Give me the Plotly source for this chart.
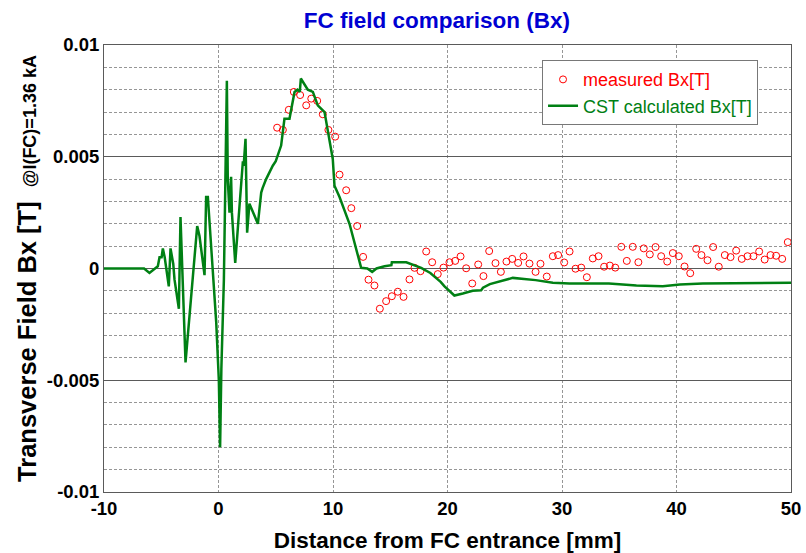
import plotly.graph_objects as go

# ---------------- data ----------------
cst_x = [-10, -7.8, -7.2, -6.9, -6.5, -6.03, -5.6, -5.44, -5.3, -5.15, -4.97, -4.86, -4.7,
         -4.34, -4.19, -3.95, -3.84, -3.46, -3.32, -2.88, -1.86, -1.66, -1.22, -1.08, -0.93,
         -0.2, 0.03, 0.14, 0.25, 0.47, 0.52, 0.6, 0.73, 0.81, 0.96, 1.1, 1.17, 1.46, 1.98,
         2.13, 2.2, 2.36, 2.5, 2.7, 3.44, 3.73, 3.85, 4.16, 4.74, 5.0, 5.47, 5.76, 6.2, 6.64,
         6.9, 7.1, 7.19, 7.8, 8.24, 8.67, 9.26, 9.98, 10.13, 10.57, 11.44, 12.0, 12.46, 13.0,
         13.42, 13.8, 14.5, 15.1, 15.14, 16.4, 17.7, 18.5, 19.4, 19.74, 20.6, 21.34, 22.2,
         22.94, 23.1, 23.7, 25.7, 27.7, 29.2, 30.65, 34.1, 36.5, 38.8, 40.3, 42.3, 50.0]
cst_y = [0, 0, 0.00002, 0.00001, 0, -0.0002, 0, 0.00005, 0.0001, 0.0005, 0.0005, 0.0009, 0.0005,
         -0.0008, 0.0009, 0.0002, -0.0005, -0.0018, 0.0023, -0.0042, 0.0019, 0.00145, -0.0003,
         0.0032, 0.0032,
         -0.0024, -0.005, -0.008, -0.0045, -0.0005, 0.0009, 0.004, 0.0084, 0.004, 0.0025, 0.0041,
         0.0025, 0.00025, 0.004,
         0.0048, 0.0046, 0.0058, 0.0016, 0.0029, 0.002, 0.0034, 0.0036, 0.004, 0.0046, 0.0048,
         0.0055, 0.0067, 0.0067, 0.0079,
         0.008, 0.0079, 0.0085, 0.008, 0.0079, 0.0073, 0.007, 0.0049, 0.0037, 0.0032, 0.002,
         0.00085, 0.00003, 0.0,
         -0.00015, 0.0, 0.0001, 0.00015, 0.00028, 0.00028, 0.00003, -0.0002, -0.0006, -0.0008,
         -0.00121, -0.00112, -0.001,
         -0.00097, -0.00086, -0.0007, -0.00042, -0.00052, -0.00064, -0.00067, -0.00067, -0.00076,
         -0.00079, -0.00072, -0.00067, -0.00064]

meas_x = [5.12, 5.62, 6.14, 6.58, 7.13, 7.66, 8.1, 8.62, 9.11, 9.6, 10.19, 10.57, 11.15, 11.6,
          12.11, 12.63, 13.1, 13.62, 14.09, 14.64, 15.14, 15.66, 16.16, 16.68, 17.12, 17.64,
          18.14, 18.66, 19.15, 19.65, 20.17, 20.67, 21.14, 21.63, 22.16, 22.68, 23.14, 23.64,
          24.19, 24.66, 25.15, 25.65, 26.17, 26.64, 27.16, 27.69, 28.12, 28.67, 29.2, 29.66,
          30.19, 30.66, 31.18, 31.68, 32.17, 32.69, 33.19, 33.68, 34.18, 34.65, 35.18, 35.66,
          36.18, 36.67, 37.14, 37.67, 38.17, 38.66, 39.19, 39.68, 40.2, 40.7, 41.2, 41.72,
          42.18, 42.71, 43.2, 43.69, 44.22, 44.72, 45.21, 45.7, 46.2, 46.72, 47.22, 47.7,
          48.21, 48.7, 49.23, 49.72, 50.22]
meas_y = [0.0063, 0.0062, 0.0071, 0.0079, 0.00776, 0.0073, 0.0076, 0.0075, 0.0069, 0.0062,
          0.0059, 0.0042, 0.0035, 0.0027, 0.0019, 0.00052, -0.0005, -0.00076, -0.0018, -0.00146,
          -0.00124, -0.00104, -0.00127, -0.00049, 0.00003, -0.00012, 0.00076, 0.00028, -0.00025,
          0.00004, 0.00028, 0.00034, 0.00054, 0.00001, -0.00067, 0.00018, -0.00034, 0.00078,
          0.00024, -0.00015, 0.00031, 0.00043, 0.00025, 0.00054, 0.00022, -0.00015, 0.00021,
          -0.00036, 0.00055, 0.0006, 0.00027, 0.00076, -0.00001, 0.00004, -0.00039, 0.00045,
          0.00055, 0.00008, 0.00013, 0.00004, 0.00097, 0.00034, 0.00097, 0.00028, 0.0009,
          0.00063, 0.00096, 0.00055, 0.00031, 0.00069, 0.00055, 0.00009, -0.00021, 0.00088,
          0.0006, 0.00037, 0.00096, 0.00008, 0.0006, 0.00051, 0.0008, 0.00043, 0.00055, 0.00055,
          0.00076, 0.0004, 0.0006, 0.00057, 0.00043, 0.00118, 0.00028]

x_tickvals = [-10, 0, 10, 20, 30, 40, 50]
x_ticktext = ["-10", "0", "10", "20", "30", "40", "50"]
y_tickvals = [0.01, 0.005, 0, -0.005, -0.01]
y_ticktext = ["0.01", "0.005", "0", "-0.005", "-0.01"]

FONT = "Liberation Sans, Arial, sans-serif"
RED = "rgb(255,0,0)"
GREEN = "rgb(0,128,20)"

fig = go.Figure()
fig.add_trace(go.Scatter(
    x=meas_x, y=meas_y, mode="markers",
    name="<span style='color:rgb(255,0,0)'>measured Bx[T]</span>",
    marker=dict(symbol="circle-open", size=7, color=RED, line=dict(width=1)),
    cliponaxis=False,
))
fig.add_trace(go.Scatter(
    x=cst_x, y=cst_y, mode="lines",
    name="<span style='color:rgb(0,128,20)'>CST calculated Bx[T]</span>",
    line=dict(color=GREEN, width=2.5),
))

fig.update_layout(
    width=806, height=553,
    margin=dict(l=104, r=15, t=45, b=61),
    paper_bgcolor="white", plot_bgcolor="white",
    font=dict(family=FONT, color="black"),
    title=dict(text="<b>FC field comparison (Bx)</b>", x=0.542, xanchor="center",
               y=0.963, yanchor="middle",
               font=dict(family=FONT, size=22.5, color="rgb(0,0,210)")),
    showlegend=True,
    legend=dict(x=0.6376, y=0.966, xanchor="left", yanchor="top",
                bgcolor="white", bordercolor="rgb(120,120,120)", borderwidth=1,
                font=dict(family=FONT, size=18), tracegroupgap=0),
    xaxis=dict(range=[-10, 50], tickvals=x_tickvals, ticktext=x_ticktext,
               tickfont=dict(size=18.5, family=FONT, weight="bold"),
               showgrid=True, gridcolor="rgb(150,150,150)", griddash="3px,2px", gridwidth=1,
               zeroline=False, showline=True, linecolor="rgb(90,90,90)", linewidth=1,
               mirror=True, ticks="", automargin=False,
               title=dict(text="<b>Distance from FC entrance [mm]</b>",
                          font=dict(size=22.5, family=FONT), standoff=16)),
    yaxis=dict(range=[-0.01, 0.01], tickvals=y_tickvals, ticktext=y_ticktext,
               tickfont=dict(size=18.5, family=FONT, weight="bold"),
               showgrid=True, gridcolor="rgb(90,90,90)", gridwidth=1,
               minor=dict(dtick=0.001, tick0=0, showgrid=True, gridcolor="rgb(150,150,150)",
                          griddash="3px,2px", gridwidth=1, ticks=""),
               zeroline=False, showline=True, linecolor="rgb(90,90,90)", linewidth=1,
               mirror=True, ticks="", automargin=False,
               title=dict(text="<b>Transverse Field Bx [T]</b>  <span style='font-size:18px'><b>@I(FC)=1.36 kA</b></span>",
                          font=dict(size=25.5, family=FONT), standoff=2)),
)

fig.write_html("out.html")
